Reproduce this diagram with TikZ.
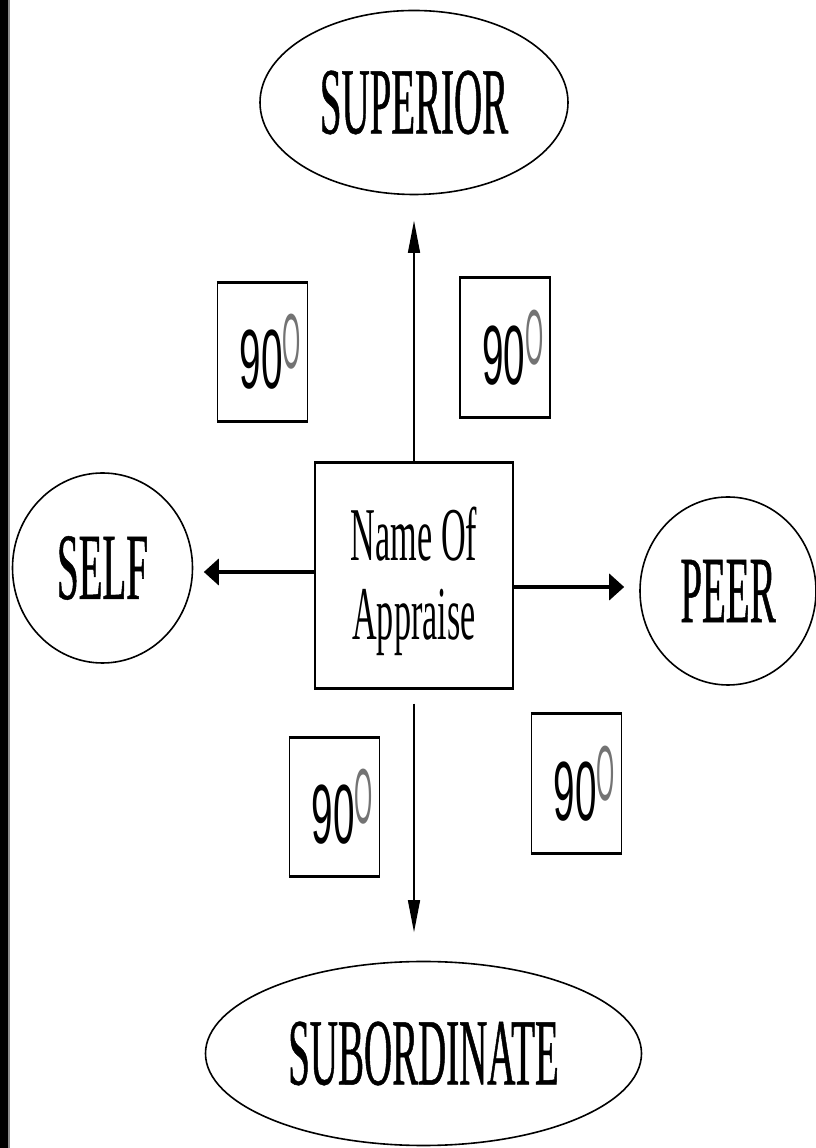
\documentclass[tikz,border=0pt]{standalone}
\usepackage{fontspec}
\setmainfont{Liberation Serif}
\newfontfamily\rolefont[FakeStretch=0.41,FakeBold=0.5]{Liberation Serif}
\newfontfamily\namefont[FakeStretch=0.45]{Liberation Serif}
\newfontfamily\digitfont[FakeStretch=0.46]{Liberation Sans}
\newfontfamily\ringfont[FakeStretch=0.3]{Liberation Sans}
\usetikzlibrary{arrows.meta,shapes.geometric}

\newcommand{\ninety}{\hspace*{16pt}{\digitfont\fontsize{84}{84}\selectfont 90}%
  {\ringfont\fontsize{78}{78}\selectfont\color{black!55}\raisebox{20pt}{O}}}

\begin{document}
\begin{tikzpicture}
[
x=1pt, y=1pt,
role/.style={ellipse, draw=black, line width=1.6pt, inner sep=0pt, font=\rolefont\fontsize{95}{95}\selectfont},
centre/.style={rectangle, draw=black, line width=1.5pt, minimum width=198pt, minimum height=225pt, inner sep=0pt, align=center, font=\namefont\fontsize{76}{79}\selectfont},
deg/.style={rectangle, draw=black, line width=1.5pt, minimum width=90pt, minimum height=138pt, inner sep=0pt},
vert/.style={-{Triangle[length=32pt,width=12pt]}, line width=1.4pt},
horiz/.style={-{Triangle[length=15pt,width=26pt]}, line width=4pt}
]
\useasboundingbox (0,0) rectangle (816,1148);
\fill[black] (0,0) rectangle (8,1148);
\fill[black!45] (8,0) rectangle (10,1148);

%Nodes
\node[centre]   (appraisee)     at (414,572.5)      {\rule{0pt}{66pt}Name Of\\Appraise};
\node[role, minimum width=308pt, minimum height=184pt]  (superior)     [above of=appraisee, node distance=473pt]                  {SUPERIOR};
\node[role, minimum width=180pt, minimum height=190pt]  (self)         [left of=appraisee, node distance=311.5pt, yshift=7.5pt]   {SELF};
\node[role, minimum width=176pt, minimum height=188pt]  (peer)         [right of=appraisee, node distance=314pt, yshift=-15.5pt]  {PEER};
\node[role, minimum width=436pt, minimum height=184pt]  (subordinate)  [below of=appraisee, node distance=478pt, xshift=9.5pt]    {SUBORDINATE};

\node[deg]      (degA)          at (262.5,796)      {\ninety};
\node[deg]      (degB)          at (505,800.5)      {\ninety};
\node[deg]      (degC)          at (334.5,341)      {\ninety};
\node[deg]      (degD)          at (576.5,364.5)    {\ninety};

%heavier top and bottom rules
\foreach \b in {appraisee,degA,degB,degC,degD}
  \draw[line width=3pt] (\b.north west) -- (\b.north east) (\b.south west) -- (\b.south east);

%Lines
\coordinate (lefty)  at ([yshift=3.5pt]appraisee.west);
\coordinate (righty) at ([yshift=-11.5pt]appraisee.east);
\path
(appraisee.north)   edge[vert, shorten >=25.5pt]                    (superior.south)
(appraisee.south)   edge[vert, shorten <=15pt, shorten >=28.5pt]    (appraisee.south |- subordinate.north)
(lefty)             edge[horiz, shorten >=10.5pt]                   (lefty -| self.east)
(righty)            edge[horiz, shorten >=15pt]                     (righty -| peer.west);

\end{tikzpicture}
\end{document}
